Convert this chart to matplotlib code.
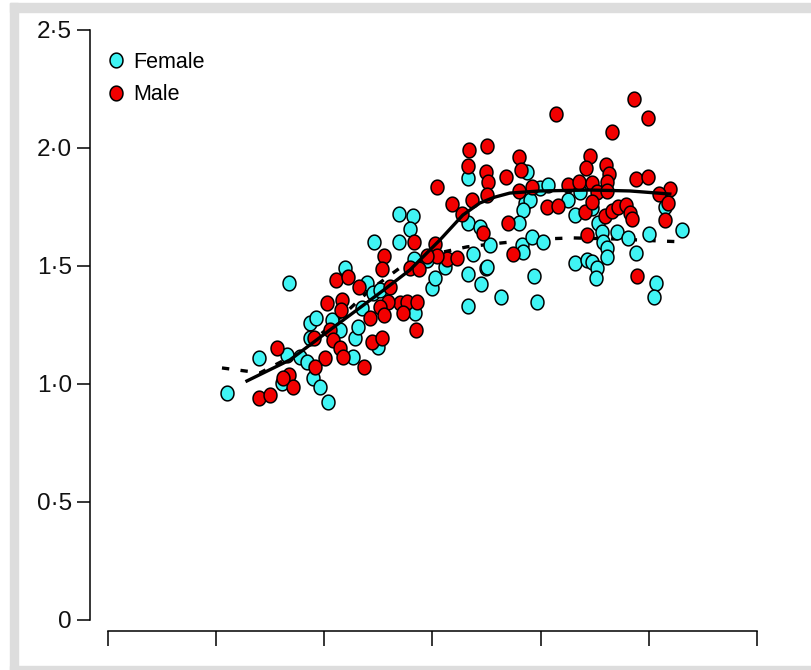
import numpy as np
import matplotlib
matplotlib.use("Agg")
from matplotlib import pyplot as plt
from matplotlib.path import Path
from matplotlib.patches import Rectangle

plt.rcParams['font.family'] = ['Liberation Sans', 'DejaVu Sans']

# female observations (x in tick units, y value)
female_x = [1.673, 1.100, 1.396, 1.654, 1.775, 1.608, 1.895, 1.959, 2.033, 1.867,
            1.922, 2.070, 2.144, 2.283, 2.264, 2.190, 2.394, 2.449, 2.347, 2.311,
            1.867, 1.839, 2.689, 2.819, 2.791, 2.458, 2.689, 3.327, 3.327, 3.438,
            3.373, 3.327, 3.447, 3.494, 3.327, 2.994, 3.022, 3.115, 2.828, 2.948,
            2.514, 2.837, 2.495, 3.872, 3.993, 4.067, 3.854, 3.900, 3.835, 4.251,
            4.316, 4.362, 3.799, 3.531, 3.826, 3.919, 4.020, 3.835, 3.503, 3.937,
            3.632, 3.965, 4.316, 4.427, 4.473, 5.148, 4.529, 4.566, 4.704, 4.806,
            5.000, 5.305, 4.575, 4.612, 4.612, 4.880, 4.473, 4.519, 4.510, 5.065,
            5.046]
female_y = [1.428, 0.962, 1.110, 1.123, 1.114, 1.004, 1.025, 0.987, 0.924, 1.258,
            1.280, 1.271, 1.229, 1.195, 1.114, 1.492, 1.428, 1.386, 1.322, 1.242,
            1.195, 1.093, 1.720, 1.712, 1.657, 1.602, 1.602, 1.873, 1.682, 1.665,
            1.551, 1.466, 1.424, 1.492, 1.331, 1.407, 1.449, 1.496, 1.530, 1.525,
            1.398, 1.301, 1.157, 1.898, 1.831, 1.843, 1.767, 1.780, 1.737, 1.780,
            1.716, 1.814, 1.682, 1.589, 1.589, 1.623, 1.602, 1.559, 1.496, 1.458,
            1.369, 1.347, 1.513, 1.525, 1.746, 1.750, 1.682, 1.644, 1.644, 1.619,
            1.636, 1.653, 1.602, 1.576, 1.538, 1.555, 1.517, 1.492, 1.449, 1.428,
            1.369]

# male observations
male_x = [1.562, 1.396, 1.497, 1.673, 1.710, 1.617, 2.006, 1.913, 2.024, 2.163,
          2.153, 2.052, 2.079, 2.144, 2.172, 2.366, 1.904, 2.107, 2.218, 2.320,
          2.440, 2.421, 3.041, 3.179, 3.364, 3.272, 3.466, 3.022, 2.828, 2.551,
          2.532, 3.133, 3.226, 3.041, 2.948, 2.791, 2.874, 2.606, 2.699, 2.763,
          2.856, 2.726, 2.847, 2.588, 2.514, 2.551, 2.532, 4.140, 3.336, 3.503,
          3.327, 3.494, 3.512, 3.678, 3.799, 3.817, 3.503, 3.799, 3.919, 4.057,
          4.159, 4.251, 4.353, 3.697, 4.427, 3.743, 4.409, 4.861, 4.991, 4.658,
          4.455, 4.418, 4.603, 4.630, 4.612, 4.473, 4.519, 4.612, 4.880, 4.991,
          5.194, 5.092, 5.176, 5.148, 4.473, 4.593, 4.658, 4.713, 4.787, 4.824,
          4.843, 4.889]
male_y = [1.153, 0.941, 0.953, 1.038, 0.987, 1.025, 1.110, 1.072, 1.343, 1.356,
          1.314, 1.229, 1.186, 1.153, 1.114, 1.072, 1.195, 1.441, 1.453, 1.411,
          1.178, 1.280, 1.835, 1.763, 1.780, 1.720, 1.640, 1.593, 1.602, 1.542,
          1.487, 1.530, 1.534, 1.542, 1.542, 1.492, 1.487, 1.411, 1.343, 1.347,
          1.347, 1.301, 1.229, 1.347, 1.326, 1.292, 1.195, 2.144, 1.992, 2.008,
          1.924, 1.898, 1.856, 1.877, 1.962, 1.907, 1.801, 1.818, 1.835, 1.750,
          1.754, 1.843, 1.856, 1.682, 1.631, 1.551, 1.729, 2.208, 2.127, 2.068,
          1.966, 1.915, 1.928, 1.890, 1.856, 1.852, 1.814, 1.818, 1.869, 1.877,
          1.826, 1.805, 1.767, 1.695, 1.771, 1.712, 1.733, 1.750, 1.758, 1.725,
          1.699, 1.458]

# fitted curves
solid_x = [1.285, 1.682, 2.052, 2.514, 2.791, 3.068, 3.281, 3.438, 3.577, 3.715,
           3.993, 4.455, 4.824, 5.194]
solid_y = [1.013, 1.102, 1.229, 1.386, 1.483, 1.610, 1.716, 1.767, 1.792, 1.809,
           1.818, 1.822, 1.818, 1.805]
dashed_x = [1.054, 1.405, 1.775, 2.144, 2.421, 2.699, 2.976, 3.318, 3.623, 3.993,
            4.298, 4.732, 5.102, 5.333]
dashed_y = [1.068, 1.047, 1.136, 1.280, 1.398, 1.492, 1.547, 1.581, 1.597, 1.614,
            1.619, 1.614, 1.606, 1.602]

y_ticks = [0, 0.5, 1.0, 1.5, 2.0, 2.5]
y_labels = ["0", "0·5", "1·0", "1·5", "2·0", "2·5"]
x_ticks = [0, 1, 2, 3, 4, 5, 6]

# slightly tall ellipse marker
t = np.linspace(0, 2*np.pi, 60)
ellipse = Path(np.column_stack([np.cos(t)/1.14, np.sin(t)]), closed=True)

fig = plt.figure(figsize=(8.11, 6.70), dpi=100)
W, H = 811, 670
fig.patches.append(Rectangle((10/W, 0), 8/W, (H-3)/H, transform=fig.transFigure,
                             color='#dddddd', zorder=0))
fig.patches.append(Rectangle((10/W, (H-12)/H), 1-10/W, 9/H, transform=fig.transFigure,
                             color='#dddddd', zorder=0))
fig.patches.append(Rectangle((10/W, 0), 1-10/W, 4/H, transform=fig.transFigure,
                             color='#dddddd', zorder=0))

ax = fig.add_axes([90/W, 50/H, 667/W, 590/H])
ax.patch.set_visible(False)

mk = dict(ls='none', marker=ellipse, ms=10.6, mec='black', mew=1.1, zorder=2)
ax.plot(dashed_x, dashed_y, color='black', lw=2.4, ls=(0, (2.2, 3.4)), zorder=1)
ax.plot(female_x, female_y, mfc='#40f4f4', label='Female', **mk)
ax.plot(male_x, male_y, mfc='#f20000', label='Male', **mk)
ax.plot(solid_x, solid_y, color='black', lw=2.4, zorder=3)

ax.set_xlim(-0.166, 6.0)
ax.set_ylim(0, 2.5)
ax.set_yticks(y_ticks)
ax.set_yticklabels(y_labels)
ax.set_xticks(x_ticks)
ax.set_xticklabels([])
ax.tick_params(axis='y', length=9.4, width=1.1, pad=3.6, labelsize=17.5, labelcolor='#111111')
ax.tick_params(axis='x', length=10.5, width=1.1)
ax.spines['top'].set_visible(False)
ax.spines['right'].set_visible(False)
ax.spines['left'].set_linewidth(1.1)
ax.spines['bottom'].set_linewidth(1.1)
ax.spines['bottom'].set_bounds(0, 6)
ax.spines['bottom'].set_position(('outward', 8))

ax.legend(loc='upper left', bbox_to_anchor=(16.5/667, 0.9635), frameon=False,
          fontsize=15.5, handlelength=0.85, handletextpad=0.4, labelspacing=0.54,
          borderpad=0, borderaxespad=0)

fig.savefig("out.png", dpi=100)
